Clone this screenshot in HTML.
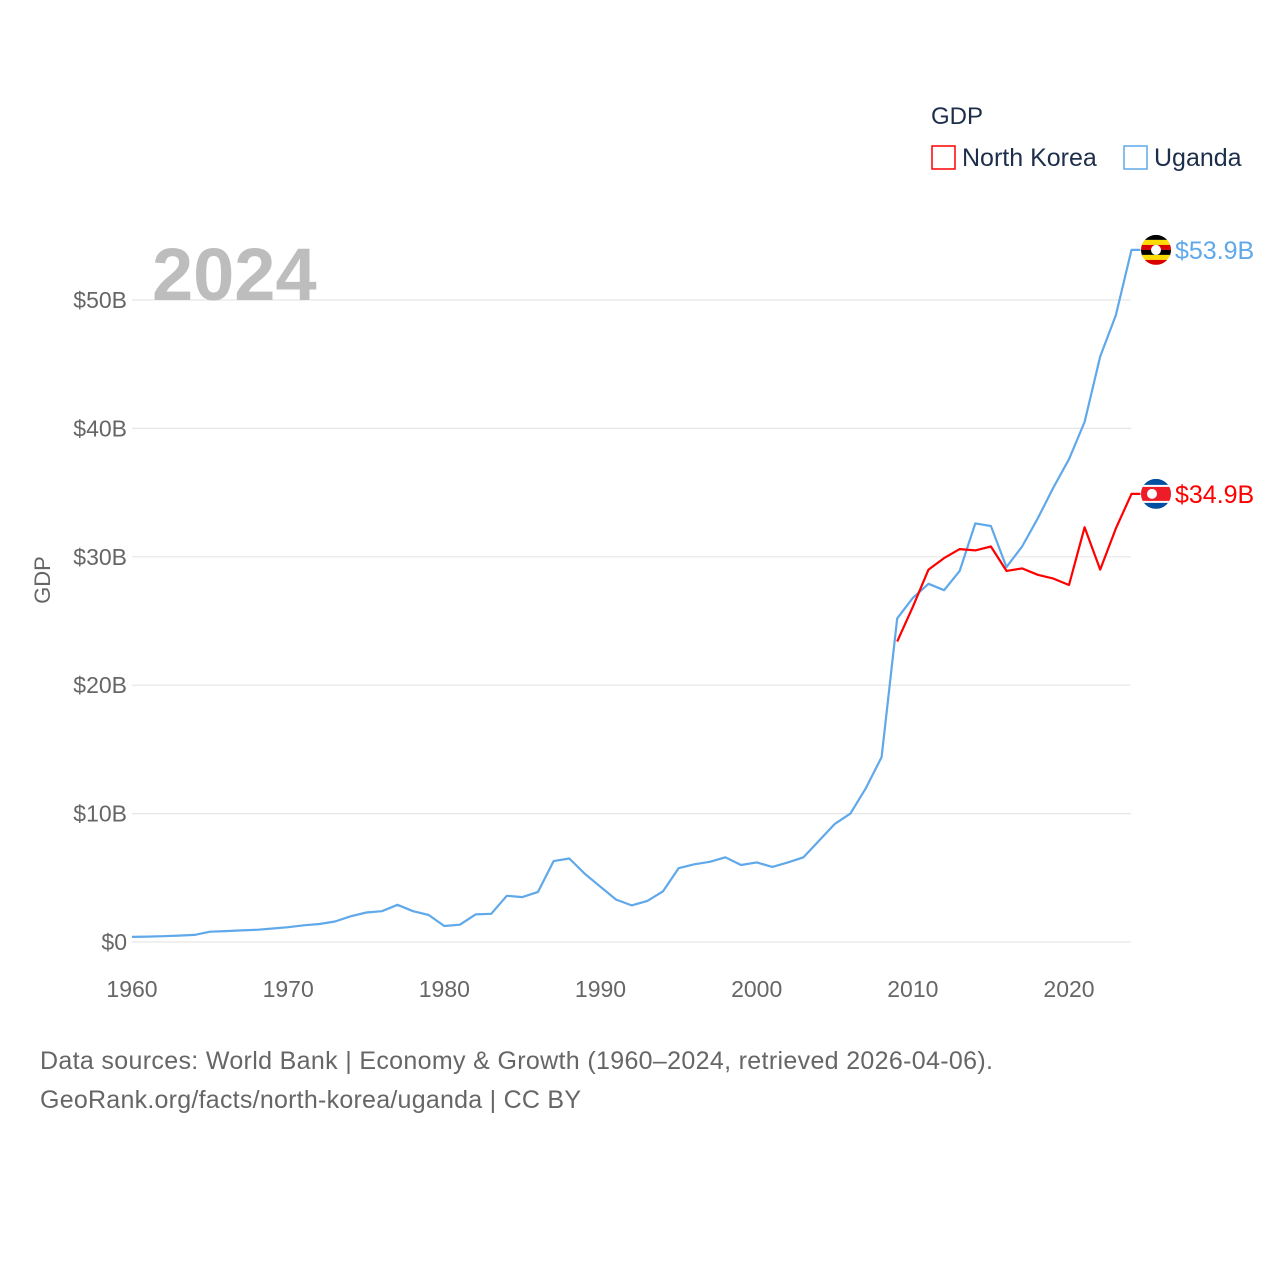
<!DOCTYPE html>
<html><head><meta charset="utf-8"><style>
body{margin:0;background:#fff;font-family:"Liberation Sans",sans-serif}
svg text{font-family:"Liberation Sans",sans-serif}
</style></head><body>
<svg id="chart" width="1280" height="1280" xmlns="http://www.w3.org/2000/svg">
<rect width="1280" height="1280" fill="#fff"/>
<g id="grid"></g>
<g id="yticks"></g>
<g id="xticks"></g>
<text x="152" y="300" font-size="74" font-weight="bold" fill="#bdbdbd">2024</text>
<text transform="translate(50,580) rotate(-90)" text-anchor="middle" font-size="22" fill="#666">GDP</text>
<g id="series"></g>
<g>
<text x="931" y="124" font-size="24" fill="#1c2e4a">GDP</text>
<g><rect x="932" y="146" width="23" height="23" fill="none" stroke="#ff0000" stroke-width="1.5"/><text x="962" y="166" font-size="25" fill="#1c2e4a">North Korea</text></g>
<g><rect x="1124" y="146" width="23" height="23" fill="none" stroke="#5fa8ea" stroke-width="1.5"/><text x="1154" y="166" font-size="25" fill="#1c2e4a">Uganda</text></g>
</g>
<g id="ends"></g>
<text x="40" y="1069" font-size="25" fill="#666" textLength="953">Data sources: World Bank | Economy &amp; Growth (1960–2024, retrieved 2026-04-06).</text>
<text x="40" y="1108" font-size="25" fill="#666" textLength="541">GeoRank.org/facts/north-korea/uganda | CC BY</text>
</svg>
<script>
const ugYears=[];for(let y=1960;y<=2024;y++)ugYears.push(y);
const ugandaGDP=[0.4,0.42,0.45,0.5,0.55,0.8,0.85,0.9,0.95,1.05,1.15,1.3,1.4,1.6,2.0,2.3,2.4,2.9,2.4,2.1,1.25,1.35,2.15,2.2,3.6,3.5,3.9,6.3,6.5,5.3,4.3,3.3,2.85,3.2,3.95,5.75,6.05,6.25,6.6,6.0,6.2,5.85,6.2,6.6,7.9,9.2,10.0,12.0,14.4,25.2,26.8,27.9,27.4,28.9,32.6,32.4,29.2,30.8,33.0,35.4,37.6,40.5,45.6,48.8,53.9];
const nkYears=[2009,2010,2011,2012,2013,2014,2015,2016,2017,2018,2019,2020,2021,2022,2023,2024];
const nkGDP=[23.4,26.1,29.0,29.9,30.6,30.5,30.8,28.9,29.1,28.6,28.3,27.8,32.3,29.0,32.2,34.9];
const yTickVals=[0,10,20,30,40,50];
const yTickLabels=["$0","$10B","$20B","$30B","$40B","$50B"];
const xTickVals=[1960,1970,1980,1990,2000,2010,2020];
const NS="http://www.w3.org/2000/svg";
const x=v=>132+(v-1960)*(1069-132)/60;
const y=v=>942-v*12.84;
function mk(t,a,p){const e=document.createElementNS(NS,t);for(const k in a)e.setAttribute(k,a[k]);p.appendChild(e);return e;}
const grid=document.getElementById('grid'),yt=document.getElementById('yticks'),xt=document.getElementById('xticks');
yTickVals.forEach((v,i)=>{
 const l=mk('line',{x1:132,x2:1131,y1:y(v),y2:y(v),stroke:'#e6e6e6','stroke-width':1.2},grid);
 
 
 const t=mk('text',{x:127,y:y(v)+8,'text-anchor':'end','font-size':23,fill:'#666'},yt);
 t.textContent=yTickLabels[i];
 
 
});
xTickVals.forEach(v=>{
 const t=mk('text',{x:x(v),y:997,'text-anchor':'middle','font-size':23,fill:'#666'},xt);
 t.textContent=v;
 
 
});
const s=document.getElementById('series');
function line(xs,vs,c,name){
 let d=xs.map((yr,i)=>(i?'L':'M')+x(yr).toFixed(1)+','+y(vs[i]).toFixed(1)).join('');
 d+='L'+(x(xs[xs.length-1])+9)+','+y(vs[vs.length-1]).toFixed(1);
 const p=mk('path',{d:d,fill:'none',stroke:c,'stroke-width':2.2,'stroke-linejoin':'round'},s);
 
 
}
line(ugYears,ugandaGDP,'#5fa8ea','uganda-line');
line(nkYears,nkGDP,'#ff0000','north-korea-line');
const ends=document.getElementById('ends');
const defs=mk('defs',{},document.getElementById('chart'));
function endLabel(v,c,txt,name,flag){
 const cy=y(v),cx=1156;
 const cp=mk('clipPath',{id:'clip-'+flag},defs);
 mk('circle',{cx:cx,cy:cy,r:15},cp);
 const g=mk('g',{},ends);
 
 
 const f=mk('g',{'clip-path':'url(#clip-'+flag+')'},g);
 if(flag==='ug'){
  ['#000','#fcdc04','#d90000','#000','#fcdc04','#d90000'].forEach((col,i)=>mk('rect',{x:cx-15,y:cy-15+i*5,width:30,height:5,fill:col},f));
  mk('circle',{cx:cx,cy:cy,r:5,fill:'#fff'},f);
 }else{
  mk('rect',{x:cx-15,y:cy-15,width:30,height:30,fill:'#024fa2'},f);
  mk('rect',{x:cx-15,y:cy-9,width:30,height:18,fill:'#fff'},f);
  mk('rect',{x:cx-15,y:cy-7,width:30,height:14,fill:'#ed1c27'},f);
  mk('circle',{cx:cx-4,cy:cy,r:5,fill:'#fff'},f);
 }
 const t=mk('text',{x:1175,y:cy+9,'font-size':25,fill:c},g);t.textContent=txt;
}
endLabel(ugandaGDP[ugandaGDP.length-1],'#5fa8ea','$53.9B','uganda-end-label','ug');
endLabel(nkGDP[nkGDP.length-1],'#ff0000','$34.9B','north-korea-end-label','nk');
</script>
</body></html>
